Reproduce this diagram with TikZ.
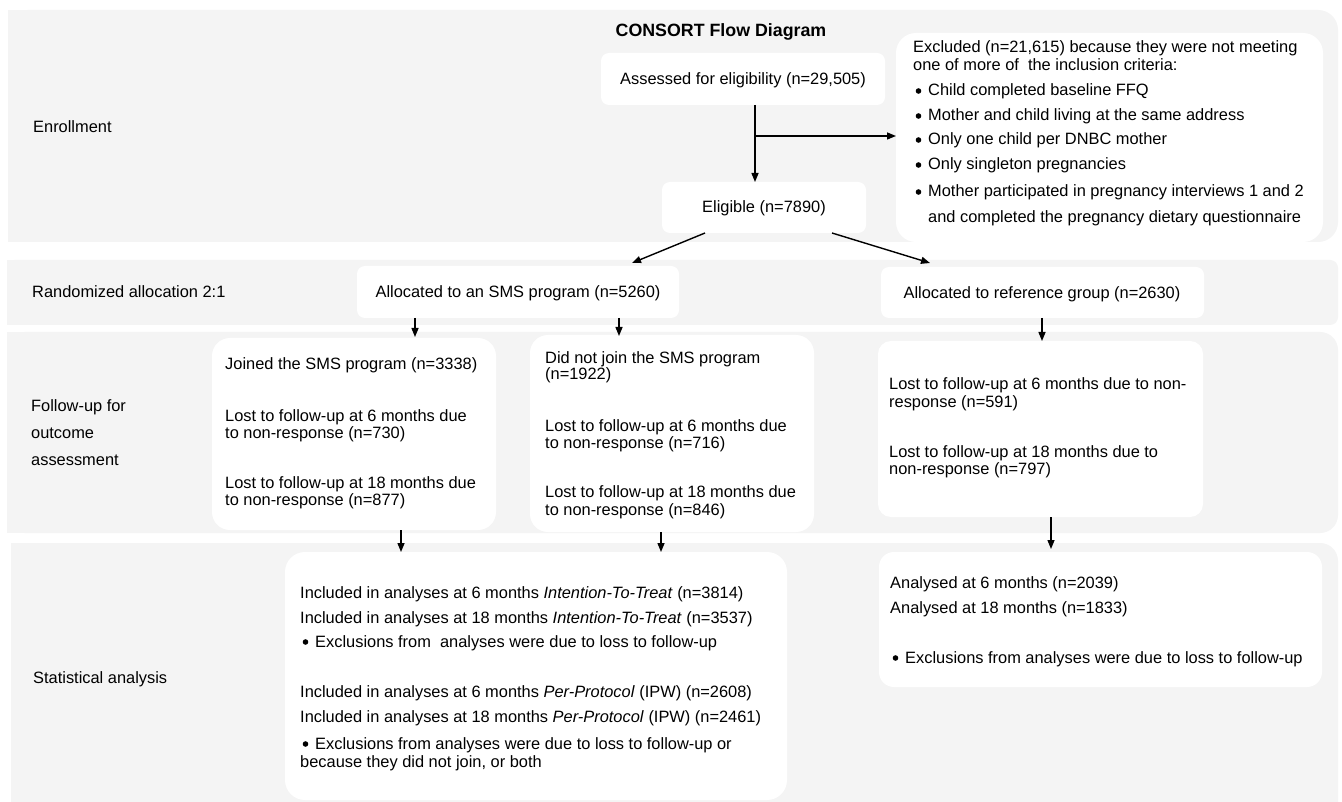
\documentclass[tikz,border=0pt]{standalone}
\usepackage{fontspec}
\setmainfont{Liberation Sans}
\usetikzlibrary{arrows.meta}
\definecolor{bandgray}{RGB}{244,244,244}
\newcommand\diagfont{\fontsize{16.4}{18}\selectfont}
\newcommand\bul{\hspace*{15pt}}
\newcommand\tline[4]{\node[txt] (#1) at (#2,#3) {#4};}
\begin{document}
\begin{tikzpicture}[x=1pt,y=-1pt,
  band/.style={fill=bandgray},
  box/.style={fill=white,draw=none,inner sep=0pt,outer sep=0pt,anchor=north west},
  txt/.style={font=\diagfont,inner sep=0pt,anchor=base west},
  dot/.style={fill=black},
  arr/.style={-{Triangle[length=9pt,width=7pt]},line width=1.4pt}]
\useasboundingbox (0,0) rectangle (1342,802);
\clip (0,0) rectangle (1342,802);
\fill[white] (0,0) rectangle (1342,802);
% bands
\fill[band,rounded corners=20pt] (8,10) rectangle (1338,242);
\fill[band] (8,10) rectangle (60,242);
\fill[band,rounded corners=8pt] (7,260) rectangle (1338,325);
\fill[band] (7,260) rectangle (60,325);
\fill[band,rounded corners=18pt] (7,332) rectangle (1338,533);
\fill[band] (7,332) rectangle (60,533);
\fill[band,rounded corners=18pt] (11,543) rectangle (1338,830);
\fill[band] (11,543) rectangle (60,830);
% boxes
\node[box,rounded corners=8pt,minimum width=284pt,minimum height=52pt] (assess) at (601,53) {};
\node[box,rounded corners=8pt,minimum width=204pt,minimum height=51pt] (elig) at (662,182) {};
\node[box,rounded corners=20pt,minimum width=427pt,minimum height=209pt] (excl) at (896,33) {};
\node[box,rounded corners=8pt,minimum width=322pt,minimum height=52pt] (smsalloc) at (357,266) {};
\node[box,rounded corners=8pt,minimum width=323pt,minimum height=51pt] (refalloc) at (881,267) {};
\node[box,rounded corners=18pt,minimum width=284pt,minimum height=192pt] (joined) at (212,338) {};
\node[box,rounded corners=18pt,minimum width=284pt,minimum height=197pt] (notjoin) at (530,335) {};
\node[box,rounded corners=13pt,minimum width=325pt,minimum height=176pt] (reflost) at (878,341) {};
\node[box,rounded corners=20pt,minimum width=502pt,minimum height=248pt] (incl) at (285,552) {};
\node[box,rounded corners=15pt,minimum width=443pt,minimum height=135pt] (anal) at (879,552) {};
% title and row labels
\node[font=\bfseries\fontsize{17.8}{20}\selectfont,inner sep=0pt,anchor=base] (title) at (721,37) {CONSORT Flow Diagram};
\tline{lenr}{33}{133}{Enrollment}
\tline{lrand}{32}{298}{Randomized allocation 2:1}
\tline{lfu1}{31}{411}{Follow-up for}
\tline{lfu2}{31}{438}{outcome}
\tline{lfu3}{31}{465}{assessment}
\tline{lstat}{33}{683}{Statistical analysis}
% box texts
\tline{tassess}{620}{85}{Assessed for eligibility (n=29,505)}
\node[txt,anchor=base] (telig) at (764,213) {Eligible (n=7890)};
\node[txt,anchor=base] (tsms) at (518,298) {Allocated to an SMS program (n=5260)};
\node[txt,anchor=base] (tref) at (1042,299) {Allocated to reference group (n=2630)};
\tline{tex1}{913}{53}{Excluded (n=21,615) because they were not meeting}
\tline{tex2}{913}{71}{one of more of\ \ the inclusion criteria:}
\tline{tex3}{913}{96}{\bul Child completed baseline FFQ}
\tline{tex4}{913}{121}{\bul Mother and child living at the same address}
\tline{tex5}{913}{145}{\bul Only one child per DNBC mother}
\tline{tex6}{913}{170}{\bul Only singleton pregnancies}
\tline{tex7}{913}{197}{\bul Mother participated in pregnancy interviews 1 and 2}
\tline{tex8}{928}{223}{and completed the pregnancy dietary questionnaire}
\tline{tj1}{225}{370}{Joined the SMS program (n=3338)}
\tline{tj2}{225}{421}{Lost to follow-up at 6 months due}
\tline{tj3}{225}{438}{to non-response (n=730)}
\tline{tj4}{225}{488}{Lost to follow-up at 18 months due}
\tline{tj5}{225}{505}{to non-response (n=877)}
\tline{tn1}{545}{363}{Did not join the SMS program}
\tline{tn2}{545}{380}{(n=1922)}
\tline{tn3}{545}{431}{Lost to follow-up at 6 months due}
\tline{tn4}{545}{448}{to non-response (n=716)}
\tline{tn5}{545}{497}{Lost to follow-up at 18 months due}
\tline{tn6}{545}{515}{to non-response (n=846)}
\tline{tr1}{889}{389}{Lost to follow-up at 6 months due to non-}
\tline{tr2}{889}{407}{response (n=591)}
\tline{tr3}{889}{457}{Lost to follow-up at 18 months due to}
\tline{tr4}{889}{474}{non-response (n=797)}
\tline{ti1}{300}{598}{Included in analyses at 6 months \textit{Intention-To-Treat} (n=3814)}
\tline{ti2}{300}{623}{Included in analyses at 18 months \textit{Intention-To-Treat} (n=3537)}
\tline{ti3}{300}{647}{\bul Exclusions from\ \ analyses were due to loss to follow-up}
\tline{ti4}{300}{697}{Included in analyses at 6 months \textit{Per-Protocol} (IPW) (n=2608)}
\tline{ti5}{300}{722}{Included in analyses at 18 months \textit{Per-Protocol} (IPW) (n=2461)}
\tline{ti6}{300}{749}{\bul Exclusions from analyses were due to loss to follow-up or}
\tline{ti7}{300}{767}{because they did not join, or both}
\tline{ta1}{890}{588}{Analysed at 6 months (n=2039)}
\tline{ta2}{890}{613}{Analysed at 18 months (n=1833)}
\tline{ta3}{890}{663}{\bul Exclusions from analyses were due to loss to follow-up}
% bullets
\foreach \t in {tex3,tex4,tex5,tex6,tex7,ti3,ti6,ta3}
  \fill[dot] ([xshift=5.5pt,yshift=5pt]\t.base west) circle (2.8pt);
% connectors
\coordinate (branch) at (755,136);
\coordinate (e2s) at (632,263);
\coordinate (e2r) at (930,263);
\draw[arr] (assess.south -| branch) -- (elig.north -| branch);
\draw[arr] (branch) -- (branch -| excl.west);
\draw[arr] (elig.south -| 705,0) -- (e2s);
\draw[arr] (elig.south -| 832,0) -- (e2r);
\draw[arr] (smsalloc.south -| 415,0) -- ([yshift=1pt]joined.north -| 415,0);
\draw[arr] (smsalloc.south -| 619,0) -- ([yshift=-1pt]notjoin.north -| 619,0);
\draw[arr] (refalloc.south -| 1042,0) -- (reflost.north -| 1042,0);
\draw[arr] (joined.south -| 401,0) -- (incl.north -| 401,0);
\draw[arr] (notjoin.south -| 661,0) -- (incl.north -| 661,0);
\draw[arr] (reflost.south -| 1051,0) -- ([yshift=3pt]anal.north -| 1051,0);
\end{tikzpicture}
\end{document}
